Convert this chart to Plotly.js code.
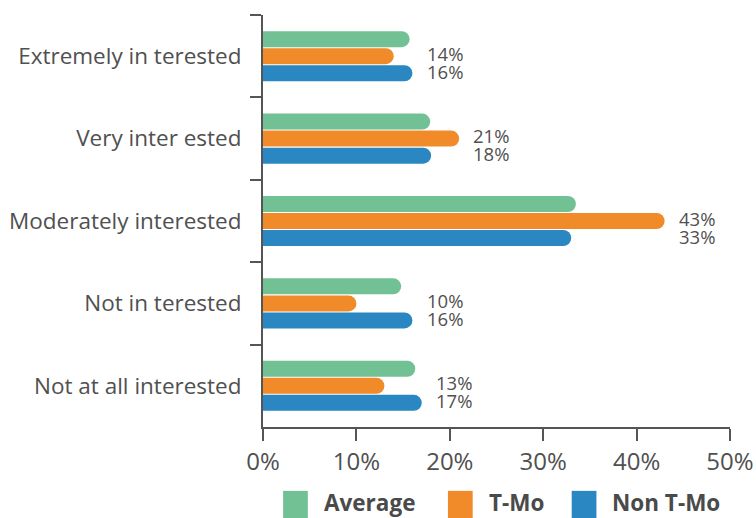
<!DOCTYPE html>
<html>
<head>
<meta charset="utf-8">
<script src="https://cdn.plot.ly/plotly-3.0.1.min.js"></script>
<style>
  html, body { margin: 0; padding: 0; background: #fff; }
  #chart { width: 756px; height: 518px; }
</style>
</head>
<body>
<div id="chart"></div>
<script>
// Interest levels, top to bottom
const categories = [
  "Extremely in terested",
  "Very inter ested",
  "Moderately interested",
  "Not in terested",
  "Not at all interested"
];
const seriesNames = ["Average", "T-Mo", "Non T-Mo"];
const averageValues = [15.7, 17.9, 33.5, 14.8, 16.3];
const tmoValues = [14, 21, 43, 10, 13];
const nonTmoValues = [16, 18, 33, 16, 17];
const xTickValues = [0, 10, 20, 30, 40, 50];
const xTickLabels = ["0%", "10%", "20%", "30%", "40%", "50%"];

const colors = ["#72c194", "#f18b2a", "#2a87c1"];
const textColor = "#505050";
const font = "'Open Sans', 'Noto Sans', sans-serif";

const allSeries = [averageValues, tmoValues, nonTmoValues];
const traces = allSeries.map((vals, i) => ({
  type: "bar",
  orientation: "h",
  name: seriesNames[i],
  x: vals,
  y: categories,
  marker: { color: colors[i], cornerradius: 8, line: { width: 0 } },
  hoverinfo: "skip",
  showlegend: false
}));

// Value labels for T-Mo and Non T-Mo beside each group
const annotations = [];
categories.forEach((c, i) => {
  const xPos = Math.max(tmoValues[i], nonTmoValues[i]) + 1.3;
  annotations.push({
    x: xPos, y: c, xref: "x", yref: "y",
    text: tmoValues[i] + "%", showarrow: false,
    xanchor: "left", yanchor: "middle", yshift: 3,
    font: { family: font, size: 18.5, color: textColor }
  });
  annotations.push({
    x: xPos, y: c, xref: "x", yref: "y",
    text: nonTmoValues[i] + "%", showarrow: false,
    xanchor: "left", yanchor: "middle", yshift: -15,
    font: { family: font, size: 18.5, color: textColor }
  });
});

// Legend drawn as swatches with bold labels along the bottom
const legendX = [0.043, 0.396, 0.661];   // paper fraction of swatch left edges
const legendShapes = [];
seriesNames.forEach((n, i) => {
  legendShapes.push({
    type: "rect", xref: "paper", yref: "paper",
    x0: legendX[i], x1: legendX[i] + 0.053,
    y0: -0.222, y1: -0.155,
    fillcolor: colors[i], line: { width: 0 }
  });
  annotations.push({
    x: legendX[i] + 0.053, y: -0.183, xref: "paper", yref: "paper",
    text: "<b>" + n + "</b>", showarrow: false,
    xanchor: "left", yanchor: "middle", xshift: 15, borderpad: 0,
    font: { family: font, size: 22.5, color: "#4a4a4a" }
  });
});

const layout = {
  width: 756, height: 518,
  margin: { l: 263, r: 26, t: 15, b: 91 },
  paper_bgcolor: "#ffffff", plot_bgcolor: "#ffffff",
  barmode: "group", bargap: 0.38, bargroupgap: 0.06,
  showlegend: false,
  xaxis: {
    range: [0, 50], tickvals: xTickValues, ticktext: xTickLabels,
    showgrid: false, zeroline: false,
    showline: true, linecolor: "#555555", linewidth: 2,
    ticks: "outside", ticklen: 12, tickwidth: 2, tickcolor: "#555555",
    tickfont: { family: font, size: 24, color: textColor },
    fixedrange: true
  },
  yaxis: {
    type: "category", autorange: "reversed",
    showgrid: false, zeroline: false,
    showline: true, linecolor: "#555555", linewidth: 2,
    ticks: "outside", tickson: "boundaries", ticklen: 11, tickwidth: 2, tickcolor: "#555555",
    ticklabelstandoff: 15,
    tickfont: { family: font, size: 22.5, color: textColor },
    fixedrange: true
  },
  shapes: legendShapes,
  annotations: annotations
};

Plotly.newPlot("chart", traces, layout, { displayModeBar: false, staticPlot: true });
</script>
</body>
</html>
